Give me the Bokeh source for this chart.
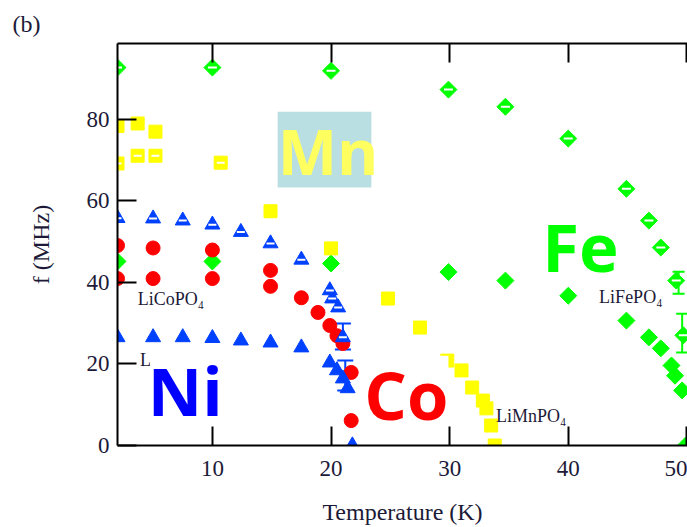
from bokeh.plotting import figure
from bokeh.models import (Range1d, LinearAxis, FixedTicker, Label, Whisker, ColumnDataSource,
                          TeeHead, BoxAnnotation)
from bokeh.embed import file_html
from bokeh.resources import INLINE

# ---------------- data ----------------
fe_open_T = [2, 10, 20, 29.9, 34.7, 40, 44.9, 46.8, 47.8, 49.1, 49.7]
fe_open_f = [92.6, 92.6, 91.8, 87.2, 83.0, 75.2, 62.9, 55.1, 48.5, 40.4, 27.0]
fe_T = [2, 10, 20, 29.9, 34.7, 40, 44.9, 46.8, 47.8, 48.7, 49.0, 49.6, 49.9]
fe_f = [45.1, 45.1, 44.6, 42.5, 40.4, 36.7, 30.6, 26.5, 23.8, 19.6, 17.1, 13.5, 0]

mn_T = [2, 3.7, 5.2, 14.9, 20, 24.8, 27.5, 29.8, 31.0, 31.9, 32.8, 33.1, 33.5, 33.8]
mn_f = [78.3, 78.9, 76.9, 57.4, 48.3, 36.0, 28.9, 20.8, 18.4, 14.2, 11.0, 9.1, 4.9, 0]
mn_open_T = [2, 3.7, 5.2, 10.7]
mn_open_f = [69.1, 71.0, 71.0, 69.3]

co_T = [2, 5.0, 10, 2, 5.0, 10, 14.9, 14.9, 17.5, 18.9, 19.9, 20.5, 21.0, 21.7, 21.7]
co_f = [49.0, 48.4, 47.9, 40.9, 40.9, 40.9, 42.9, 39.0, 36.2, 32.6, 29.4, 26.9, 25.0, 17.9, 6.1]

ni_T = [2, 5, 7.5, 10, 12.4, 14.9, 17.5, 19.9, 20.5, 21.0, 21.4, 21.8]
ni_f = [26.5, 26.5, 26.5, 26.3, 25.7, 25.2, 24.0, 20.3, 18.4, 16.4, 14.0, 0]
ni_open_T = [2, 5, 7.5, 10, 12.4, 14.9, 17.5, 19.9, 20.1, 20.6, 21.0]
ni_open_f = [55.7, 55.6, 55.1, 54.1, 52.3, 49.5, 45.5, 38.0, 36.0, 33.8, 26.5]

ni_err_T = [21.0, 21.2]
ni_err_lo = [23.5, 13.5]
ni_err_hi = [29.9, 20.8]
fe_err_T = [49.3, 49.6]
fe_err_lo = [37.2, 22.8]
fe_err_hi = [42.6, 32.3]

x_ticks = [10, 20, 30, 40, 50]
y_ticks = [0, 20, 40, 60, 80]

GREEN = "#00ff00"
YELLOW = "#ffff00"
RED = "#ff0000"
BLUE = "#0040ff"
SERIF = "Liberation Serif"
INK = "#1c1a38"

p = figure(width=687, height=527, output_backend="svg", toolbar_location=None,
           x_range=Range1d(2, 50.05), y_range=Range1d(0, 98.5),
           min_border_left=117, min_border_right=0, min_border_top=43, min_border_bottom=82)
p.outline_line_color = None
p.grid.visible = False
p.background_fill_color = "white"
p.border_fill_color = "white"

p.title.text = "(b)"
p.title.align = "left"
p.title.offset = -105
p.title.standoff = 14
p.title.text_font = SERIF
p.title.text_font_size = "24px"
p.title.text_font_style = "normal"
p.title.text_color = INK

for ax in (p.xaxis[0], p.yaxis[0]):
    ax.axis_line_width = 2
    ax.axis_line_color = "black"
    ax.major_tick_line_width = 2
    ax.major_tick_line_color = "black"
    ax.major_tick_in = 19
    ax.major_tick_out = 0
    ax.minor_tick_line_color = None
    ax.major_label_text_font = SERIF
    ax.major_label_text_font_size = "23px"
    ax.major_label_text_color = INK
    ax.axis_label_text_font = SERIF
    ax.axis_label_text_font_size = "24px"
    ax.axis_label_text_font_style = "normal"
    ax.axis_label_text_color = INK

p.xaxis.ticker = FixedTicker(ticks=x_ticks)
p.yaxis.ticker = FixedTicker(ticks=y_ticks)
p.xaxis.axis_label = "Temperature (K)"
p.yaxis.axis_label = "f (MHz)"
p.xaxis.major_label_standoff = 15
p.xaxis.axis_label_standoff = 20
p.yaxis.major_label_standoff = 8
p.yaxis.axis_label_standoff = 30

top = LinearAxis(ticker=FixedTicker(ticks=x_ticks), major_tick_in=19, major_tick_out=0,
                 major_tick_line_width=2, axis_line_width=2, minor_tick_line_color=None,
                 major_label_text_font_size="0px", major_label_standoff=0)
p.add_layout(top, "above")

# ---------------- markers ----------------
ROT = 0.7854
p.scatter(fe_T, fe_f, marker="square", angle=ROT, size=12, fill_color=GREEN, line_color=GREEN)
p.scatter(fe_open_T, fe_open_f, marker="square", angle=ROT, size=12, fill_color=GREEN,
          line_color=GREEN)
p.scatter(fe_open_T, fe_open_f, marker="dash", size=9, line_color="white", line_width=2)

p.scatter(mn_T, mn_f, marker="square", size=13, fill_color=YELLOW, line_color=YELLOW)
p.scatter(mn_open_T, mn_open_f, marker="square", size=13, fill_color=YELLOW, line_color=YELLOW)
p.scatter(mn_open_T, mn_open_f, marker="dash", size=8, line_color="white", line_width=2)

p.scatter(co_T, co_f, marker="circle", size=14, fill_color=RED, line_color=RED)

p.scatter(ni_T, ni_f, marker="triangle", size=15, fill_color=BLUE, line_color=BLUE)
p.scatter(ni_open_T, ni_open_f, marker="triangle", size=15, fill_color=BLUE, line_color=BLUE)
p.scatter(ni_open_T, ni_open_f, marker="dash", size=8, line_color="white", line_width=2)

ni_src = ColumnDataSource(dict(x=ni_err_T, lo=ni_err_lo, hi=ni_err_hi))
p.add_layout(Whisker(source=ni_src, base="x", lower="lo", upper="hi", line_color=BLUE, line_width=2,
                     upper_head=TeeHead(size=16, line_color=BLUE, line_width=2),
                     lower_head=TeeHead(size=16, line_color=BLUE, line_width=2)))
fe_src = ColumnDataSource(dict(x=fe_err_T, lo=fe_err_lo, hi=fe_err_hi))
p.add_layout(Whisker(source=fe_src, base="x", lower="lo", upper="hi", line_color=GREEN, line_width=2,
                     upper_head=TeeHead(size=12, line_color=GREEN, line_width=2),
                     lower_head=TeeHead(size=12, line_color=GREEN, line_width=2)))

# ---------------- compound names ----------------
names = ["LiCoPO\u2084", "LiNiPO\u2084", "LiMnPO\u2084", "LiFePO\u2084"]
name_pos = [(3.7, 36.0), (3.9, 21.0), (33.9, 7.2), (42.6, 36.5)]
for t, (x, y) in zip(names, name_pos):
    p.add_layout(Label(x=x, y=y, text=t, text_font=SERIF, text_font_size="18px",
                       text_color=INK, text_baseline="middle", text_align="left"))

# ---------------- big element labels ----------------
p.add_layout(BoxAnnotation(left=15.5, right=23.4, bottom=63.2, top=81.8,
                           fill_color="#b9dfe3", fill_alpha=1, line_color=None))
p.add_layout(BoxAnnotation(left=4.75, right=10.6, bottom=5.0, top=23.7,
                           fill_color="white", fill_alpha=1, line_color=None))
p.add_layout(BoxAnnotation(left=22.4, right=29.9, bottom=4.8, top=22.0,
                           fill_color="white", fill_alpha=1, line_color=None))

BIG = "Open Sans"
def big(x, y, t, c, size="67px"):
    p.add_layout(Label(x=x, y=y, text=t, text_font=BIG, text_font_style="bold",
                       text_font_size=size, text_color=c,
                       text_baseline="alphabetic", text_align="left"))

big(15.5, 72.4, "Mn", "#ffff60", "63px")
big(37.8, 49.0, "Fe", GREEN)
big(4.55, 13.6, "Ni", "#0000ff")
big(22.8, 12.7, "Co", RED)

open("out.html", "w").write(file_html(p, INLINE))
